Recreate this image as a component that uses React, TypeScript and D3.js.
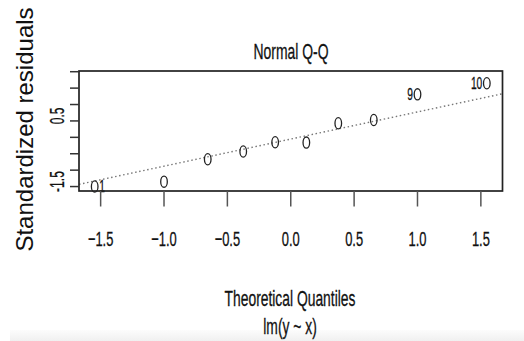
import React from "react";
import * as d3 from "d3";

// Theoretical quantiles (x) and sorted standardized residuals (y)
const theoretical = [-1.547, -1.0, -0.655, -0.375, -0.123, 0.123, 0.375, 0.655, 1.0, 1.547];
const residuals = [-1.5, -1.35, -0.67, -0.43, -0.15, -0.16, 0.43, 0.53, 1.31, 1.65];
const pointLabels = ["1", "", "", "", "", "", "", "", "9", "10"];
const xTicks = [-1.5, -1.0, -0.5, 0.0, 0.5, 1.0, 1.5];
const yTicks = [-1.5, -1.0, -0.5, 0.0, 0.5, 1.0, 1.5, 2.0];
const yTickLabels = ["-1.5", "", "", "", "0.5", "", "", ""];
const title = "Normal Q-Q";
const xTitle = "Theoretical Quantiles";
const subTitle = "lm(y ~ x)";
const yTitle = "Standardized residuals";

const W = 524;
const H = 341;
const box = { left: 79, right: 502.5, top: 71, bottom: 191 };
const FONT = "'Liberation Sans', Arial, Helvetica, sans-serif";

function Txt({ x, y, size, sx = 0.68, rot = 0, anchor = "middle", bold = 0.3, children }: any) {
  const tr = `translate(${x},${y})${rot ? ` rotate(${rot})` : ""} scale(${sx},1)`;
  return (
    <text
      transform={tr}
      fontSize={size}
      fontFamily={FONT}
      textAnchor={anchor}
      fill="#111"
      stroke="#111"
      strokeWidth={bold}
    >
      {children}
    </text>
  );
}

export default function App() {
  const xr = d3.extent(theoretical) as [number, number];
  const xPad = (xr[1] - xr[0]) * 0.04;
  const x = d3.scaleLinear().domain([xr[0] - xPad, xr[1] + xPad]).range([box.left, box.right]);

  const yr = d3.extent(residuals) as [number, number];
  const yLim: [number, number] = [yr[0], yr[1] + (yr[1] - yr[0]) * 0.075];
  const yPad = (yLim[1] - yLim[0]) * 0.04;
  const y = d3.scaleLinear().domain([yLim[0] - yPad, yLim[1] + yPad]).range([box.bottom, box.top]);

  // qqline through 1st and 3rd quartiles
  const sorted = [...residuals].sort((a, b) => a - b);
  const q1 = d3.quantile(sorted, 0.25) as number;
  const q3 = d3.quantile(sorted, 0.75) as number;
  const z = 0.6744898;
  const slope = (q3 - q1) / (2 * z);
  const intercept = q1 + slope * z;
  const xd = x.domain();
  const lineGen = d3
    .line<number>()
    .x((d) => x(d))
    .y((d) => y(intercept + slope * d));

  return (
    <svg width={W} height={H} style={{ position: "absolute", left: 0, top: 0 }}>
      <defs>
        <linearGradient id="band" x1="0" y1="0" x2="0" y2="1">
          <stop offset="0" stopColor="#fcfcfc" />
          <stop offset="1" stopColor="#f0f0f0" />
        </linearGradient>
        <clipPath id="plotclip">
          <rect x={box.left} y={box.top} width={box.right - box.left} height={box.bottom - box.top} />
        </clipPath>
      </defs>
      <rect x={0} y={0} width={W} height={H} fill="#fff" />
      <rect x={10} y={330} width={W - 10} height={H - 330} fill="url(#band)" />

      {/* qq line */}
      <path
        d={lineGen(xd) || ""}
        clipPath="url(#plotclip)"
        stroke="#777"
        strokeWidth={1.4}
        strokeDasharray="1.5,2.6"
        fill="none"
      />

      {/* points */}
      {theoretical.map((t, i) => (
        <ellipse key={i} cx={x(t)} cy={y(residuals[i])} rx={3.3} ry={5.6} fill="none" stroke="#222" strokeWidth={1.3} />
      ))}
      {theoretical.map((t, i) =>
        pointLabels[i] ? (
          <Txt
            key={"l" + i}
            x={t < 0 ? x(t) + 4.5 : x(t) - 4.5}
            y={y(residuals[i]) + 5.5}
            size={16}
            sx={0.64}
            anchor={t < 0 ? "start" : "end"}
          >
            {pointLabels[i]}
          </Txt>
        ) : null
      )}

      {/* box */}
      <rect
        x={box.left}
        y={box.top}
        width={box.right - box.left}
        height={box.bottom - box.top}
        fill="none"
        stroke="#222"
        strokeWidth={1.7}
      />

      {/* x axis */}
      {xTicks.map((t) => (
        <g key={"xt" + t}>
          <line x1={x(t)} x2={x(t)} y1={box.bottom} y2={206.5} stroke="#555" strokeWidth={1.5} />
          <Txt x={x(t)} y={246} size={20.5} sx={0.63}>
            {d3.format(".1f")(t)}
          </Txt>
        </g>
      ))}

      {/* y axis */}
      {yTicks.map((t, i) => (
        <g key={"yt" + t}>
          <line x1={70} x2={box.left} y1={y(t)} y2={y(t)} stroke="#333" strokeWidth={1.5} />
          {yTickLabels[i] ? (
            <Txt x={64} y={y(t) - 5} size={19.5} sx={0.62} rot={-90}>
              {yTickLabels[i]}
            </Txt>
          ) : null}
        </g>
      ))}

      {/* titles */}
      <Txt x={291} y={58.5} size={22.5} sx={0.62}>
        {title}
      </Txt>
      <Txt x={290} y={305.5} size={22} sx={0.63}>
        {xTitle}
      </Txt>
      <Txt x={290} y={333.5} size={22} sx={0.63}>
        {subTitle}
      </Txt>
      <Txt x={33} y={129.5} size={24} sx={1} rot={-90} bold={0}>
        {yTitle}
      </Txt>
    </svg>
  );
}
